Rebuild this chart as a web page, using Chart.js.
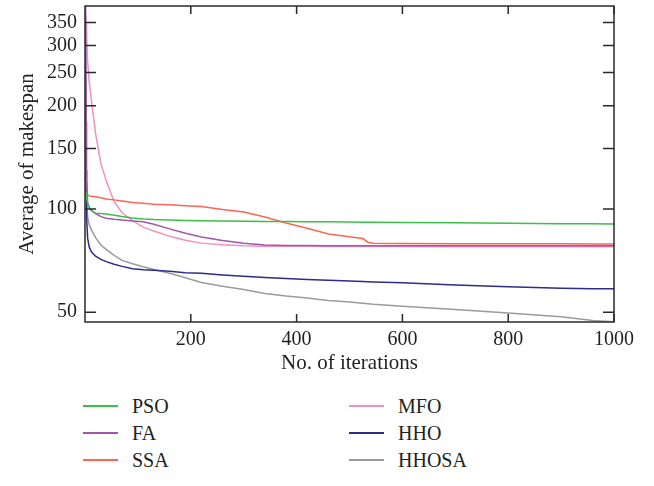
<!DOCTYPE html>
<html>
<head>
<meta charset="utf-8">
<title>Average of makespan</title>
<script src="https://cdn.jsdelivr.net/npm/chart.js@4/dist/chart.umd.min.js"></script>
<style>
  html, body { margin: 0; padding: 0; background: #fff; }
  #wrap { position: relative; width: 654px; height: 486px; font-family: 'Liberation Serif', 'DejaVu Serif', serif; color: #231f20; }
  #chart { position: absolute; left: 0; top: 0; }
  .legend-item { position: absolute; height: 22px; font-size: 20px; line-height: 22px; }
  .legend-item .swatch { position: absolute; left: 0; top: 10px; width: 35px; height: 2px; }
  .legend-item .label { position: absolute; left: 49px; top: 0; white-space: nowrap; }
</style>
</head>
<body>
<div id="wrap">
  <canvas id="chart" width="654" height="380"></canvas>
  <div id="legend"></div>
</div>
<script>
'use strict';

/* ---- Data ---- */
const ITERATIONS = [1, 2, 3, 5, 8, 12, 20, 30, 40, 55, 70, 90, 110, 130, 160, 190, 220,
                    260, 300, 340, 380, 420, 460, 500, 525, 535, 545, 600, 700, 800, 900, 960, 1000];

const PSO   = [112, 111, 108, 104, 101, 99, 97.2, 97, 96.7, 95.8, 95, 94.1, 93.5, 93.1, 92.8, 92.6, 92.4,
               92.3, 92.1, 92.0, 91.9, 91.8, 91.7, 91.6, 91.5, 91.5, 91.5, 91.3, 91.1, 90.9, 90.6, 90.5, 90.4];
const FA    = [420, 180, 120, 104, 101, 99, 97, 95, 94, 93.3, 92.8, 92.3, 91.8, 90.3, 87.5, 85, 82.8,
               80.9, 79.4, 78.5, 78.2, 78.2, 78.1, 78.1, 78.1, 78.1, 78.1, 78.1, 78.1, 78.1, 78.1, 78.1, 78.1];
const SSA   = [112, 111, 110.5, 110, 109.2, 109, 108.5, 107.8, 107, 106.3, 105.5, 104.5, 104, 103.3, 102.8, 102.2, 101.7,
               99.6, 98, 94.8, 91, 87.8, 84.5, 83, 82, 80, 79.4, 79.3, 79.2, 79.2, 79.1, 79.0, 79.0];
const MFO   = [370, 345, 320, 270, 235, 208, 166, 136, 121, 105, 97.5, 92.5, 88.5, 86.2, 83.2, 81, 79.5,
               78.6, 78.1, 77.9, 77.8, 77.8, 77.7, 77.7, 77.7, 77.7, 77.7, 77.7, 77.6, 77.6, 77.6, 77.6, 77.6];
const HHO   = [300, 130, 95, 82, 77.5, 75, 72.8, 71.3, 70.2, 69, 68, 66.9, 66.5, 66.3, 65.8, 65.2, 64.9,
               64.2, 63.6, 63.1, 62.7, 62.3, 61.9, 61.6, 61.4, 61.3, 61.2, 60.9, 60.0, 59.3, 58.7, 58.5, 58.5];
const HHOSA = [160, 120, 105, 95, 90, 87, 82.5, 78.5, 76.2, 73.2, 70.8, 69.2, 67.8, 66.6, 64.9, 63.0, 61.0,
               59.5, 58.2, 56.7, 55.7, 55.0, 54.1, 53.5, 53.1, 52.9, 52.7, 52.0, 50.9, 49.7, 48.5, 47.3, 46.9];

const SERIES_NAMES = ['PSO', 'FA', 'SSA', 'MFO', 'HHO', 'HHOSA'];
const SERIES_DATA  = [PSO, FA, SSA, MFO, HHO, HHOSA];

const X_TICKS = [200, 400, 600, 800, 1000];
const Y_TICKS = [50, 100, 150, 200, 250, 300, 350];

/* ---- Styling ---- */
const COLORS = ['#3cbf4a', '#a157a8', '#fb6655', '#f48fc0', '#2c2c8c', '#9a9aa0'];
const TEXT_COLOR = '#231f20';
const AXIS_COLOR = '#2a2a2a';
const FONT = "'Liberation Serif', 'DejaVu Serif', serif";

/* ---- Frame + inward tick marks on all four sides ---- */
const frameTicks = {
  id: 'frameTicks',
  afterDatasetsDraw(chart) {
    const { ctx, chartArea: a, scales: { x, y } } = chart;
    ctx.save();
    ctx.strokeStyle = AXIS_COLOR;
    ctx.lineWidth = 1.5;
    ctx.beginPath();
    for (const t of x.ticks) {
      const px = x.getPixelForValue(t.value);
      ctx.moveTo(px, a.bottom); ctx.lineTo(px, a.bottom - 8);
      ctx.moveTo(px, a.top);    ctx.lineTo(px, a.top + 8);
    }
    for (const t of y.ticks) {
      const py = y.getPixelForValue(t.value);
      ctx.moveTo(a.left, py);  ctx.lineTo(a.left + 11, py);
      ctx.moveTo(a.right, py); ctx.lineTo(a.right - 11, py);
    }
    ctx.stroke();
    ctx.strokeRect(a.left, a.top, a.right - a.left, a.bottom - a.top);
    ctx.restore();
  },
};

const datasets = SERIES_NAMES.map((name, i) => ({
  label: name,
  data: ITERATIONS.map((it, j) => ({ x: it, y: SERIES_DATA[i][j] })),
  borderColor: COLORS[i],
  backgroundColor: COLORS[i],
  borderWidth: 1.5,
  pointRadius: 0,
  tension: 0,
  fill: false,
}));

new Chart(document.getElementById('chart'), {
  type: 'line',
  data: { datasets },
  plugins: [frameTicks],
  options: {
    responsive: false,
    animation: false,
    layout: { padding: { left: 0, top: 6, right: 40, bottom: 0 } },
    plugins: { legend: { display: false }, tooltip: { enabled: false } },
    scales: {
      x: {
        type: 'linear',
        min: 0,
        max: 1000,
        afterBuildTicks: s => { s.ticks = X_TICKS.map(v => ({ value: v })); },
        afterFit: s => { s.height = 58; s.paddingLeft = 0; s.paddingRight = 0; },
        grid: { display: false, drawTicks: false },
        border: { display: false },
        ticks: { color: TEXT_COLOR, font: { family: FONT, size: 20 }, padding: 6, maxRotation: 0, callback: v => String(v) },
        title: { display: true, text: 'No. of iterations', color: TEXT_COLOR, font: { family: FONT, size: 21 }, padding: { top: 0, bottom: 4 } },
      },
      y: {
        type: 'logarithmic',
        min: 46.8,
        max: 391,
        afterBuildTicks: s => { s.ticks = Y_TICKS.map(v => ({ value: v })); },
        afterFit: s => { s.width = 85; s.paddingTop = 0; s.paddingBottom = 0; },
        grid: { display: false, drawTicks: false },
        border: { display: false },
        ticks: { color: TEXT_COLOR, font: { family: FONT, size: 20 }, padding: 8, callback: v => String(v) },
        title: { display: true, text: 'Average of makespan', color: TEXT_COLOR, font: { family: FONT, size: 21 }, padding: { top: 15, bottom: 0 } },
      },
    },
  },
});

/* ---- Legend (two columns, three rows) ---- */
const LEGEND_COLS = [83, 349];
const LEGEND_ROWS = [395, 422, 449];
document.getElementById('legend').innerHTML = SERIES_NAMES.map((name, i) => {
  const col = Math.floor(i / 3), row = i % 3;
  return `<div class="legend-item" style="left:${LEGEND_COLS[col]}px;top:${LEGEND_ROWS[row]}px">
    <span class="swatch" style="background:${COLORS[i]}"></span><span class="label">${name}</span></div>`;
}).join('');
</script>
</body>
</html>
